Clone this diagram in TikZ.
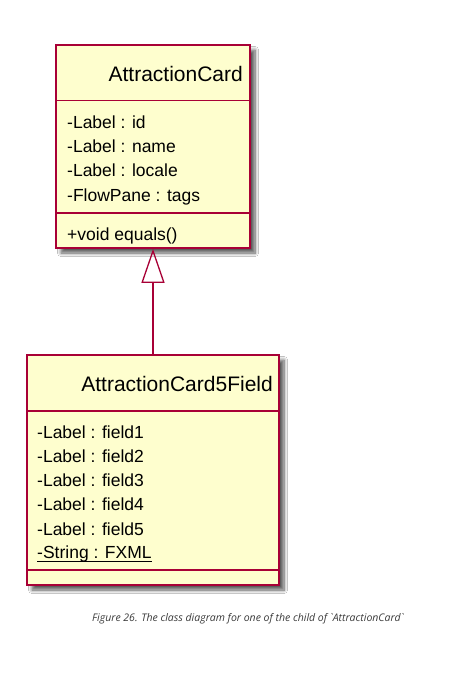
\documentclass[tikz,border=0pt]{standalone}
\usepackage{fontspec}
\setmainfont{Liberation Sans}
\newfontfamily\captionfont{Open Sans}
\usetikzlibrary{arrows.meta,shadows.blur}

\definecolor{umlborder}{HTML}{A80036}
\definecolor{umlfill}{HTML}{FEFECE}
\definecolor{captiongray}{HTML}{3A3A3A}

\tikzset{
  classbox/.style={draw=umlborder, fill=umlfill, line width=1.6pt, inner sep=0pt,
    blur shadow={shadow xshift=5pt, shadow yshift=-5pt, shadow blur steps=8,
      shadow blur radius=3.5pt, shadow opacity=65}},
  sepline/.style={draw=umlborder, line width=1.6pt},
  classname/.style={anchor=base east, inner sep=0pt, font=\fontsize{21}{25}\selectfont},
  member/.style={anchor=base west, inner sep=0pt, font=\fontsize{17.5}{21}\selectfont},
  inherit/.style={draw=umlborder, line width=1.3pt,
    -{Triangle[open, length=34pt, width=23pt, line width=1.3pt]}},
}

\begin{document}
\begin{tikzpicture}[x=1pt, y=-1pt]
  \useasboundingbox[fill=white] (0,0) rectangle (466,676);

  % parent class
  \node[classbox, minimum width=194pt, minimum height=203pt] (card) at (153,146.5) {};
  \draw[sepline] (56,100.7) -- (250,100.7);
  \draw[sepline] (56,212.7) -- (250,212.7);
  \node[classname] (cardname) at (243,81.7) {AttractionCard};
  \node[member] (cid)     at (67,128.3) {-Label : id};
  \node[member] (cname)   at (67,152.6) {-Label : name};
  \node[member] (clocale) at (67,176.9) {-Label : locale};
  \node[member] (ctags)   at (67,201.2) {-FlowPane : tags};
  \node[member] (cequals) at (67,240.0) {+void equals()};

  % child class
  \node[classbox, minimum width=252pt, minimum height=230pt] (five) at (153,470) {};
  \draw[sepline] (27,411) -- (279,411);
  \draw[sepline] (27,570) -- (279,570);
  \node[classname] (fivename) at (273,391.7) {AttractionCard5Field};
  \node[member] (f1) at (37,438.3) {-Label : field1};
  \node[member] (f2) at (37,462.5) {-Label : field2};
  \node[member] (f3) at (37,486.7) {-Label : field3};
  \node[member] (f4) at (37,510.9) {-Label : field4};
  \node[member] (f5) at (37,535.1) {-Label : field5};
  \node[member] (fxml) at (37,558.3) {-String : FXML};
  \draw[line width=1.1pt] ([yshift=-3.4pt]fxml.base west) -- ([yshift=-3.4pt]fxml.base east);

  % generalization
  \draw[inherit] (five.north) -- (card.south);

  % caption
  \node[anchor=base west, inner sep=0pt, text=captiongray,
        font=\captionfont\itshape\fontsize{10.5}{13}\selectfont] (caption) at (92,621)
    {Figure 26. The class diagram for one of the child of `AttractionCard`};
\end{tikzpicture}
\end{document}
